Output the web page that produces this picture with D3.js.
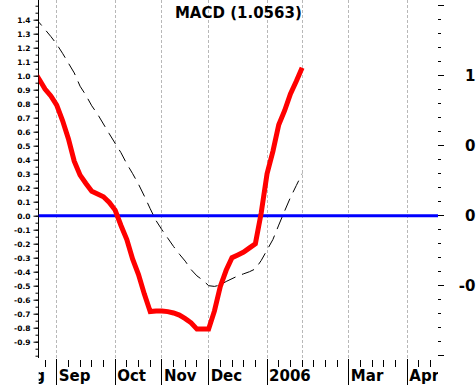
<!DOCTYPE html>
<html lang="en">
  <head>
    <meta charset="UTF-8" />
    <title>MACD</title>
    <style>
      body { margin: 0; background: #fff; }
      svg { display: block; }
    </style>
  </head>
  <body>
    <svg width="476" height="385"></svg>

    <script src="https://cdn.jsdelivr.net/npm/d3@7/dist/d3.min.js"></script>
    <script>
      // week index (0 = first week of Sep)
      const weekIdx = [
        -2, -1.5, -1, -0.5, 0, 0.5, 1, 1.5, 2, 2.5, 3, 3.5, 4, 4.5, 5, 5.5, 6,
        6.5, 7, 7.5, 8, 8.5, 9, 9.5, 10, 10.5, 11, 11.5, 12, 12.5, 13, 13.5, 14,
        14.5, 15, 15.5, 16, 16.5, 17, 17.5, 18, 18.5, 19, 19.5, 20, 20.5, 21,
      ];
      const macd = [
        1.04, 0.975, 0.905, 0.855, 0.79, 0.68, 0.55, 0.39, 0.29, 0.23, 0.175,
        0.155, 0.135, 0.095, 0.04, -0.07, -0.17, -0.31, -0.42, -0.56, -0.685,
        -0.68, -0.68, -0.685, -0.695, -0.71, -0.735, -0.765, -0.81, -0.81,
        -0.81, -0.68, -0.505, -0.39, -0.3, -0.28, -0.26, -0.23, -0.2, 0.02,
        0.3, 0.46, 0.65, 0.75, 0.87, 0.96, 1.0563,
      ];
      const signal = [
        1.43, 1.38, 1.33, 1.28, 1.225, 1.16, 1.09, 1.02, 0.925, 0.86, 0.785,
        0.725, 0.655, 0.585, 0.517, 0.45, 0.37, 0.3, 0.225, 0.14, 0.05, -0.035,
        -0.1, -0.16, -0.22, -0.275, -0.325, -0.385, -0.43, -0.46, -0.5, -0.505,
        -0.495, -0.47, -0.45, -0.43, -0.415, -0.4, -0.38, -0.32, -0.245, -0.17,
        -0.067, 0.033, 0.13, 0.215, 0.3,
      ];

      const monthLabels = ["Aug", "Sep", "Oct", "Nov", "Dec", "2006", "", "Mar", "Apr"];
      const monthStart = [-4, 0, 5, 9, 13, 18, 21, 25, 30];

      const leftLabels = [
        -0.9, -0.8, -0.7, -0.6, -0.5, -0.4, -0.3, -0.2, -0.1, 0, 0.1, 0.2, 0.3,
        0.4, 0.5, 0.6, 0.7, 0.8, 0.9, 1.0, 1.1, 1.2, 1.3, 1.4,
      ];
      const rightLabels = [-0.5, 0, 0.5, 1.0];
      const title = "MACD (1.0563)";

      const plot = { left: 38.7, right: 438, top: 0, bottom: 358 };

      const svg = d3.select("svg");

      const x = d3.scaleLinear().domain([0, 30]).range([56.7, 407.3]);
      const y = d3.scaleLinear().domain([0, 1]).range([215.7, 75.7]);

      const inPlot = (v) => {
        const py = y(v);
        return py >= plot.top - 0.5 && py <= plot.bottom + 0.5;
      };

      svg
        .append("defs")
        .append("clipPath")
        .attr("id", "plot-clip")
        .append("rect")
        .attr("x", plot.left)
        .attr("y", plot.top)
        .attr("width", plot.right - plot.left)
        .attr("height", plot.bottom - plot.top);

      svg
        .select("defs")
        .append("clipPath")
        .attr("id", "label-clip")
        .append("rect")
        .attr("x", plot.left)
        .attr("y", plot.bottom)
        .attr("width", plot.right - plot.left)
        .attr("height", 40);

      // vertical month gridlines
      svg
        .append("g")
        .selectAll("line")
        .data(monthStart.filter((m) => x(m) > plot.left && x(m) < plot.right))
        .enter()
        .append("line")
        .attr("x1", (d) => Math.floor(x(d)) + 0.5)
        .attr("x2", (d) => Math.floor(x(d)) + 0.5)
        .attr("y1", plot.top)
        .attr("y2", plot.bottom)
        .attr("stroke", "#b8b8b8")
        .attr("stroke-dasharray", "3,2");

      // left axis
      const minorVals = d3.range(-20, 31).map((k) => k / 20).filter(inPlot);
      const leftMinor = d3
        .axisLeft(y)
        .tickValues(minorVals)
        .tickSize(3)
        .tickSizeOuter(0)
        .tickFormat("");
      const leftMajor = d3
        .axisLeft(y)
        .tickValues(leftLabels)
        .tickSize(5)
        .tickSizeOuter(0)
        .tickPadding(3)
        .tickFormat(d3.format(".1f"));

      const gl = svg.append("g").attr("transform", "translate(38.5,0)");
      gl.call(leftMinor);
      gl.select(".domain").attr("d", `M0,${plot.top}V${plot.bottom}`);
      const glm = svg.append("g").attr("transform", "translate(38.5,0)").call(leftMajor);
      glm.select(".domain").remove();
      svg.selectAll("g .tick line").attr("stroke", "#000");
      glm
        .selectAll("text")
        .attr("font-family", "DejaVu Sans")
        .attr("font-weight", "bold")
        .attr("font-size", 7.5)
        .attr("fill", "#000")
        .attr("dy", "0.4em")
        .text((d) => d3.format(".1f")(d).replace("−", "-"));

      // right axis ticks (no line)
      const rightVals = d3.range(-10, 16).map((k) => k / 10).filter(inPlot);
      svg
        .append("g")
        .selectAll("line")
        .data(rightVals)
        .enter()
        .append("line")
        .attr("x1", plot.right)
        .attr("x2", (d) => (Math.round(d * 10) % 5 === 0 ? plot.right + 6 : plot.right + 3))
        .attr("y1", (d) => Math.floor(y(d)) + 0.5)
        .attr("y2", (d) => Math.floor(y(d)) + 0.5)
        .attr("stroke", "#000");

      svg
        .append("g")
        .selectAll("text")
        .data(rightLabels)
        .enter()
        .append("text")
        .attr("x", 491.6)
        .attr("y", (d) => y(d) + 5.7)
        .attr("text-anchor", "end")
        .attr("font-family", "DejaVu Sans")
        .attr("font-weight", "bold")
        .attr("font-size", 15)
        .text((d) => d3.format(".1f")(d).replace("−", "-"));

      // bottom axis: weekly ticks, month lines and labels
      const weekTicks = d3
        .range(-5, 34)
        .filter((w) => !monthStart.includes(w) || monthLabels[monthStart.indexOf(w)] === "")
        .filter((w) => x(w) > plot.left && x(w) < plot.right);

      svg
        .append("g")
        .selectAll("line")
        .data(weekTicks)
        .enter()
        .append("line")
        .attr("x1", (d) => Math.floor(x(d)) + 0.5)
        .attr("x2", (d) => Math.floor(x(d)) + 0.5)
        .attr("y1", 360)
        .attr("y2", 367)
        .attr("stroke", "#000");

      const months = monthStart
        .map((m, i) => ({ m, label: monthLabels[i] }))
        .filter((d) => d.label !== "");

      svg
        .append("g")
        .selectAll("line")
        .data(months.filter((d) => x(d.m) > plot.left && x(d.m) < plot.right))
        .enter()
        .append("line")
        .attr("x1", (d) => Math.floor(x(d.m)) + 0.5)
        .attr("x2", (d) => Math.floor(x(d.m)) + 0.5)
        .attr("y1", 359)
        .attr("y2", 385)
        .attr("stroke", "#000");

      svg
        .append("g")
        .attr("clip-path", "url(#label-clip)")
        .selectAll("text")
        .data(months)
        .enter()
        .append("text")
        .attr("x", (d) => x(d.m) + 2)
        .attr("y", 381)
        .attr("font-family", "DejaVu Sans")
        .attr("font-weight", "bold")
        .attr("font-size", 15)
        .text((d) => d.label);

      // zero line
      svg
        .append("line")
        .attr("x1", plot.left)
        .attr("x2", plot.right)
        .attr("y1", y(0))
        .attr("y2", y(0))
        .attr("stroke", "#0000ff")
        .attr("stroke-width", 3);

      const lineGen = (vals) =>
        d3
          .line()
          .x((d, i) => x(weekIdx[i]))
          .y((d) => y(d))(vals);

      const lines = svg.append("g").attr("clip-path", "url(#plot-clip)");

      lines
        .append("path")
        .attr("d", lineGen(signal))
        .attr("fill", "none")
        .attr("stroke", "#000")
        .attr("stroke-width", 1)
        .attr("stroke-dasharray", "13,7");

      lines
        .append("path")
        .attr("d", lineGen(macd))
        .attr("fill", "none")
        .attr("stroke", "#ff0000")
        .attr("stroke-width", 5)
        .attr("stroke-linejoin", "miter");

      // title
      svg
        .append("text")
        .attr("x", (plot.left + plot.right) / 2)
        .attr("y", 18.3)
        .attr("text-anchor", "middle")
        .attr("font-family", "DejaVu Sans")
        .attr("font-weight", "bold")
        .attr("font-size", 15)
        .text(title);
    </script>
  </body>
</html>
